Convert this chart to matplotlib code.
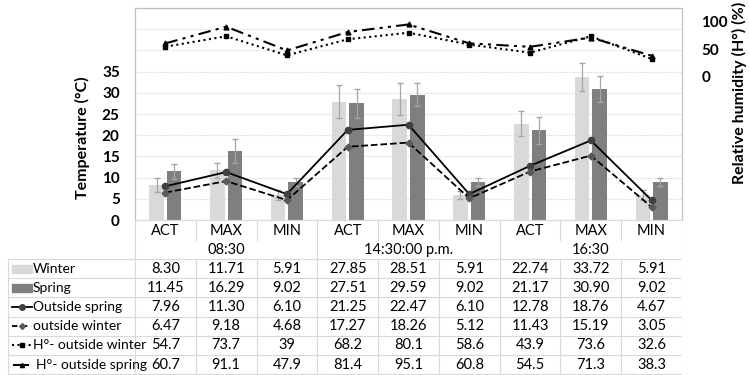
import matplotlib.pyplot as plt
import matplotlib.patches as mpatches
import numpy as np

plt.rcParams['font.family'] = ['Lato', 'DejaVu Sans']

categories = ["ACT", "MAX", "MIN"] * 3
groups = ["08:30", "14:30:00 p.m.", "16:30"]

winter = [8.30, 11.71, 5.91, 27.85, 28.51, 5.91, 22.74, 33.72, 5.91]
spring = [11.45, 16.29, 9.02, 27.51, 29.59, 9.02, 21.17, 30.90, 9.02]
winter_err = [1.6, 1.8, 1.2, 3.9, 3.8, 1.0, 2.9, 3.2, 1.1]
spring_err = [1.8, 2.8, 1.0, 3.4, 2.8, 1.0, 3.2, 3.1, 1.0]
out_spring = [7.96, 11.30, 6.10, 21.25, 22.47, 6.10, 12.78, 18.76, 4.67]
out_winter = [6.47, 9.18, 4.68, 17.27, 18.26, 5.12, 11.43, 15.19, 3.05]
h_winter = [54.7, 73.7, 39, 68.2, 80.1, 58.6, 43.9, 73.6, 32.6]
h_spring = [60.7, 91.1, 47.9, 81.4, 95.1, 60.8, 54.5, 71.3, 38.3]

W, H = 750, 375
fig = plt.figure(figsize=(7.5, 3.75), dpi=100)

left, right, top, bottom = 135, 682, 8, 220
ax = fig.add_axes([left / W, 1 - bottom / H, (right - left) / W, (bottom - top) / H])
ax2 = ax.twinx()

x = np.arange(len(categories))
bw = 0.24
ecol = '#a6a6a6'
ax.bar(x - 0.145, winter, bw, color='#d9d9d9', zorder=2)
ax.bar(x + 0.145, spring, bw, color='#7f7f7f', zorder=2)
ax.errorbar(x - 0.145, winter, yerr=winter_err, fmt='none', ecolor=ecol, elinewidth=0.9, capsize=2, zorder=3)
ax.errorbar(x + 0.145, spring, yerr=spring_err, fmt='none', ecolor=ecol, elinewidth=0.9, capsize=2, zorder=3)

ax.plot(x, out_spring, '-', color='black', lw=1.3, marker='o', ms=4.5, mfc='#404040', mec='#404040', zorder=4)
ax.plot(x, out_winter, '--', color='black', lw=1.3, marker='D', ms=3.5, mfc='#595959', mec='#595959', zorder=4)
ax2.plot(x, h_winter, ':', color='black', lw=1.5, marker='s', ms=3.5, zorder=4)
ax2.plot(x, h_spring, color='black', lw=1.5, dashes=(6, 2.5, 1.5, 2.5, 1.5, 2.5), marker='^', ms=3.5, zorder=4)

ax.set_xlim(-0.5, len(categories) - 0.5)
ax.set_ylim(0, 50)
ax.set_yticks(np.arange(0, 36, 5))
ax2.set_ylim(-260, 125)
ax2.set_yticks([0, 50, 100])
ax.set_xticks([])
for yy in np.arange(5, 51, 5):
    ax.axhline(yy, color='#d9d9d9', lw=0.8, ls=(0, (1, 1)), zorder=1)

for a in (ax, ax2):
    a.tick_params(length=0, labelsize=11)
    for s in a.spines.values():
        s.set_color('#bfbfbf')
    a.spines['bottom'].set_color('#d9d9d9')
for lab in ax.get_yticklabels() + ax2.get_yticklabels():
    lab.set_fontweight('bold')
ax.tick_params(axis='y', pad=11)
ax2.tick_params(axis='y', pad=14)
ax.set_ylabel("Temperature (°C)", fontsize=11.5, fontweight='bold')
ax2.set_ylabel("Relative humidity (H°) (%)", fontsize=11.5, fontweight='bold')
ax.yaxis.set_label_coords(-0.082, 0.39)
ax2.yaxis.set_label_coords(1.091, 0.60)

# table below plot
tab = fig.add_axes([0, 0, right / W, (H - bottom) / H])
col_w = (right - left) / len(categories)
px = 1 / col_w
tab.set_xlim(-0.5 - left * px, len(categories) - 0.5)
tab.set_ylim(H, bottom)
tab.axis('off')
gc = '#d9d9d9'
x0 = -0.5 - (left - 8) * px
fs = 10.5

for i, c in enumerate(categories):
    tab.text(i, 231, c, ha='center', va='center', fontsize=fs)
for g, name in enumerate(groups):
    tab.text(3 * g + 1, 250, name, ha='center', va='center', fontsize=fs)

for i in range(len(categories) + 1):
    xv = i - 0.5
    if i % 3 == 0:
        tab.plot([xv, xv], [bottom, 374], color=gc, lw=0.8)
    else:
        tab.plot([xv, xv], [bottom, 240], color=gc, lw=0.8)
        tab.plot([xv, xv], [259, 374], color=gc, lw=0.8)
tab.plot([x0, x0], [259, 374], color=gc, lw=0.8)

row_h = 19.2
rows = [winter, spring, out_spring, out_winter, h_winter, h_spring]
labels = ["Winter", "Spring", "Outside spring", "outside winter",
          "H°- outside winter", "H°- outside spring"]
fmts = ["{:.2f}"] * 4 + ["{:g}"] * 2
for r in range(7):
    yl = 259 + r * row_h
    tab.plot([x0, len(categories) - 0.5], [yl, yl], color=gc, lw=0.8)

kx = x0 + 4 * px
kw = 20 * px
for r, (vals, lab, f) in enumerate(zip(rows, labels, fmts)):
    yc = 259 + (r + 0.5) * row_h
    for i, v in enumerate(vals):
        tab.text(i, yc, f.format(v), ha='center', va='center', fontsize=fs)
    tx = kx + kw + 1 * px
    mx = [kx + kw / 2]
    if r < 2:
        col = '#d9d9d9' if r == 0 else '#7f7f7f'
        tab.add_patch(mpatches.Rectangle((kx, yc - 4), kw, 8, color=col))
    elif r == 2:
        tab.plot([kx, kx + kw], [yc, yc], '-', color='black', lw=1.3)
        tab.plot(mx, [yc], 'o', color='#404040', ms=4)
    elif r == 3:
        tab.plot([kx, kx + kw], [yc, yc], '--', color='black', lw=1.3, dashes=(3, 2.5))
        tab.plot(mx, [yc], 'D', color='#595959', ms=3)
    elif r == 4:
        tab.plot([kx, kx + kw], [yc, yc], ':', color='black', lw=1.5)
        tab.plot(mx, [yc], 's', color='black', ms=3)
    else:
        tab.plot([kx + 2 * px, kx + kw - 4 * px], [yc, yc], '-', color='black', lw=1.5)
        tab.plot(mx, [yc], '^', color='black', ms=3)
        tx = kx + kw + 4 * px
    tab.text(tx, yc, lab, ha='left', va='center', fontsize=10)

fig.savefig("out.png", dpi=100)
